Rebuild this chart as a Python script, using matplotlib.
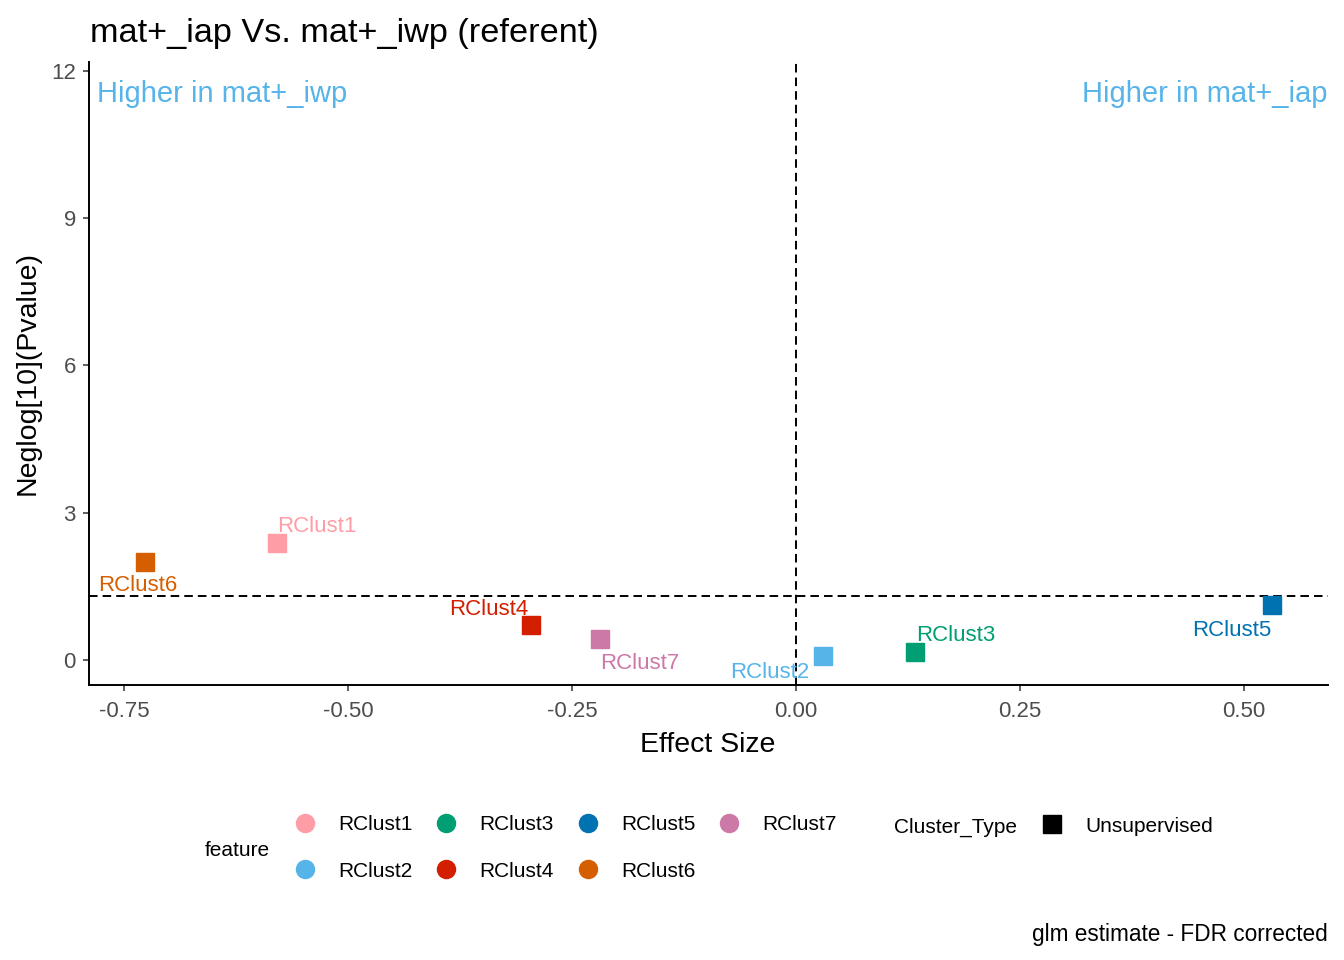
import matplotlib
matplotlib.use("Agg")
import numpy as np
from matplotlib import pyplot as plt
from matplotlib.lines import Line2D

plt.rcParams['font.family'] = ['Liberation Sans', 'DejaVu Sans']

# data
features = ['RClust1', 'RClust2', 'RClust3', 'RClust4', 'RClust5', 'RClust6', 'RClust7']
effect_size = [-0.579, 0.030, 0.133, -0.296, 0.532, -0.727, -0.219]
neglog_p = [2.39, 0.08, 0.16, 0.72, 1.11, 2.00, 0.42]
colors = ['#FF9DA7', '#56B4E9', '#009E73', '#D41E00', '#0072B2', '#D55E00', '#CC79A7']
x_ticks = [-0.75, -0.50, -0.25, 0.00, 0.25, 0.50]
y_ticks = [0, 3, 6, 9, 12]
p_cut = -np.log10(0.05)

# label placement (offset points from the marker, alignment) -- mimics ggrepel
label_pos = {
    'RClust1': (0, 7.6, 'left'),
    'RClust2': (-9.6, -15.8, 'right'),
    'RClust3': (0.6, 8.1, 'left'),
    'RClust4': (-1.4, 7.1, 'right'),
    'RClust5': (-0.7, -22.1, 'right'),
    'RClust6': (-4.7, -21.1, 'center'),
    'RClust7': (0.7, -21.7, 'left'),
}

W, H = 1344, 960
fig = plt.figure(figsize=(W / 100, H / 100), dpi=100)
ax = fig.add_axes([89 / W, 1 - 685 / H, (1328 - 89) / W, (685 - 62) / H])

dash = (0, (4.4, 2.6))
ax.axhline(p_cut, color='black', ls=dash, lw=1.4, zorder=1)
ax.axvline(0, color='black', ls=dash, lw=1.4, zorder=1)

for f, x, y, c in zip(features, effect_size, neglog_p, colors):
    ax.plot(x, y, marker='s', ms=13.5, color=c, ls='none', zorder=3)
    dx, dy, ha = label_pos[f]
    ax.annotate(f, (x, y), xytext=(dx, dy), textcoords='offset points',
                ha=ha, va='baseline', color=c, fontsize=16)

ax.annotate('Higher in mat+_iwp', (0, 1), xycoords='axes fraction', xytext=(6, -29),
            textcoords='offset points', ha='left', va='baseline',
            color='#56B4E9', fontsize=21)
ax.annotate('Higher in mat+_iap', (1, 1), xycoords='axes fraction', xytext=(0, -29),
            textcoords='offset points', ha='right', va='baseline',
            color='#56B4E9', fontsize=21)

ax.set_xlim(-0.789, 0.594)
ax.set_ylim(-0.51, 12.18)
ax.set_xticks(x_ticks)
ax.set_xticklabels([f'{t:.2f}' for t in x_ticks])
ax.set_yticks(y_ticks)
ax.tick_params(length=4.5, width=1.1, color='#333333', labelcolor='#4D4D4D',
               labelsize=16)
ax.tick_params(axis='x', pad=7)
ax.tick_params(axis='y', pad=5)
for s in ['top', 'right']:
    ax.spines[s].set_visible(False)
for s in ['left', 'bottom']:
    ax.spines[s].set_linewidth(1.4)

fig.text(90 / W, 1 - 42 / H, 'mat+_iap Vs. mat+_iwp (referent)', fontsize=24.7,
         ha='left', va='baseline')
fig.text(708 / W, 1 - 752 / H, 'Effect Size', fontsize=20.5, ha='center', va='baseline')
fig.text(28 / W, 1 - 373 / H, 'Neglog[10](Pvalue)', fontsize=20.5,
         rotation=90, ha='center', va='center')

# legends
handles = [Line2D([], [], marker='o', ms=13, color=c, ls='none') for c in colors]
fig.legend(handles, features, ncol=4, loc='center left',
           bbox_to_anchor=(294.6 / W, 1 - 848 / H), frameon=False,
           fontsize=15, handlelength=1.0, handletextpad=1.09,
           columnspacing=1.13, labelspacing=1.3, borderpad=0, borderaxespad=0)
fig.text(205 / W, 1 - 856 / H, 'feature', fontsize=15, ha='left', va='baseline')

h2 = [Line2D([], [], marker='s', ms=13, color='black', ls='none')]
fig.legend(h2, ['Unsupervised'], loc='center left',
           bbox_to_anchor=(1041.6 / W, 1 - 826 / H), frameon=False,
           fontsize=15, handlelength=1.0, handletextpad=1.09,
           borderpad=0, borderaxespad=0)
fig.text(894 / W, 1 - 833 / H, 'Cluster_Type', fontsize=15, ha='left', va='baseline')

fig.text(1328 / W, 1 - 941 / H, 'glm estimate - FDR corrected', fontsize=16.3,
         ha='right', va='baseline')

fig.savefig('out.png', dpi=100)
